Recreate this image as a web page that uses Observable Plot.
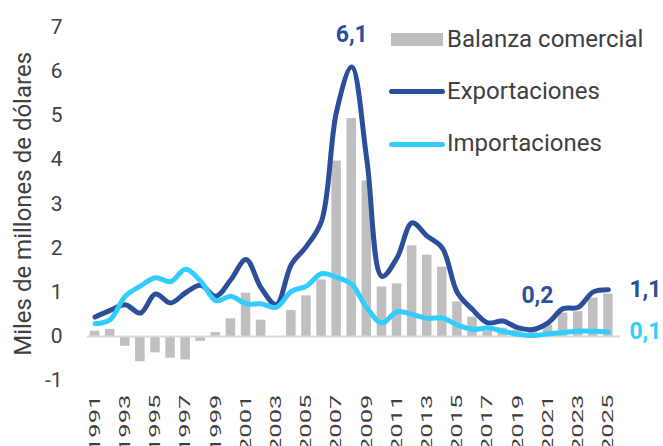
<!DOCTYPE html>
<html><head><meta charset="utf-8">
<script src="https://cdn.jsdelivr.net/npm/d3@7"></script>
<script src="https://cdn.jsdelivr.net/npm/@observablehq/plot@0.6"></script>
<style>
body{margin:0;background:#fff;font-family:Roboto,sans-serif;}
#wrap{position:relative;width:663px;height:446px;overflow:hidden;background:#fff;}
#wrap svg{position:absolute;left:0;top:0;}
.lg{position:absolute;font-size:24px;line-height:24px;color:#404040;white-space:nowrap;font-family:Roboto,sans-serif;}
.sw{position:absolute;}
</style></head><body><div id="wrap"></div>
<script>
const years = [1991,1992,1993,1994,1995,1996,1997,1998,1999,2000,2001,2002,2003,2004,2005,2006,2007,2008,2009,2010,2011,2012,2013,2014,2015,2016,2017,2018,2019,2020,2021,2022,2023,2024,2025];
const balance = [0.12,0.16,-0.22,-0.57,-0.37,-0.49,-0.53,-0.11,0.09,0.40,0.98,0.37,0.0,0.59,0.92,1.28,3.97,4.93,3.52,1.12,1.19,2.05,1.84,1.57,0.78,0.44,0.12,0.19,0.14,0.13,0.26,0.53,0.56,0.87,0.96];
const exportsV = [0.44,0.59,0.72,0.53,0.96,0.76,0.99,1.16,0.91,1.29,1.74,1.10,0.72,1.63,2.04,2.61,5.10,6.10,4.00,1.36,1.78,2.57,2.27,2.00,0.99,0.61,0.31,0.35,0.20,0.16,0.31,0.63,0.66,1.01,1.06];
const importsV = [0.29,0.38,0.91,1.14,1.33,1.24,1.52,1.25,0.81,0.91,0.74,0.74,0.66,1.02,1.14,1.42,1.34,1.18,0.65,0.31,0.56,0.50,0.41,0.42,0.26,0.16,0.19,0.12,0.05,0.02,0.06,0.09,0.12,0.12,0.10];
const xTickYears = [1991,1993,1995,1997,1999,2001,2003,2005,2007,2009,2011,2013,2015,2017,2019,2021,2023,2025];
const yTicks = [-1,0,1,2,3,4,5,6,7];
const seriesNames = ["Balanza comercial","Exportaciones","Importaciones"];
const yTitle = "Miles de millones de dólares";
const colors = {balance:"#bfbfbf", exports:"#2b4f9b", imports:"#33ccff"};

const data = years.map((year,i)=>({year, balance:balance[i], exports:exportsV[i], imports:importsV[i]}));
const fmt = v => v.toFixed(1).replace(".", ",");
const pick = y => data.filter(d => d.year === y);

const chart = Plot.plot({
  width:663, height:446,
  marginTop:26.6, marginBottom:65.8, marginLeft:87, marginRight:43,
  style:{fontFamily:"Roboto, sans-serif", color:"#404040", background:"transparent"},
  x:{domain:[1990.5,2025.8]},
  y:{domain:[-1,7]},
  marks:[
    Plot.axisX({ticks:xTickYears, tickFormat:d=>String(d), tickRotate:-90, tickSize:0, tickPadding:14, fontSize:15, label:null, fill:"#404040"}),
    Plot.axisY({ticks:yTicks, tickFormat:d=>String(d), tickSize:0, tickPadding:25, fontSize:21, label:null, fill:"#404040"}),
    Plot.text([yTitle], {frameAnchor:"left", text:d=>d, rotate:-90, dx:-64, textAnchor:"middle", fontSize:24, fill:"#404040"}),
    Plot.rectY(data, {x1:d=>d.year-0.5, x2:d=>d.year+0.5, y:"balance", fill:colors.balance, insetLeft:2.8, insetRight:2.8}),
    Plot.ruleY([0], {stroke:"#d9d9d9", strokeWidth:2}),
    Plot.lineY(data, {x:"year", y:"exports", stroke:colors.exports, strokeWidth:5, curve:"catmull-rom", strokeLinecap:"round"}),
    Plot.lineY(data, {x:"year", y:"imports", stroke:colors.imports, strokeWidth:5, curve:"catmull-rom", strokeLinecap:"round"}),
    Plot.text(pick(2008), {x:"year", y:"exports", text:d=>fmt(d.exports), dy:-32, fontSize:23, fontWeight:"bold", fill:colors.exports}),
    Plot.text(pick(2020), {x:"year", y:"exports", text:d=>fmt(d.exports), dx:4.5, dy:-33.5, fontSize:23, fontWeight:"bold", fill:colors.exports}),
    Plot.text(pick(2025), {x:"year", y:"exports", text:d=>fmt(d.exports), dx:21, textAnchor:"start", fontSize:23, fontWeight:"bold", fill:colors.exports}),
    Plot.text(pick(2025), {x:"year", y:"imports", text:d=>fmt(d.imports), dx:21, textAnchor:"start", fontSize:23, fontWeight:"bold", fill:colors.imports})
  ]
});
// stretch rotated x tick labels along text direction (as in reference)
chart.querySelectorAll('g[aria-label="x-axis tick label"] text').forEach(t=>{
  const tr = t.getAttribute("transform") || "";
  t.setAttribute("transform", tr + " scale(1.7,1)");
});
const wrap = document.getElementById("wrap");
wrap.appendChild(chart);

// legend overlay
const lg = [
  {name:seriesNames[0], type:"rect", color:colors.balance, top:26.5, sw:{left:391,top:33.3,width:52,height:12.5}},
  {name:seriesNames[1], type:"line", color:colors.exports, top:78.8, sw:{left:388.5,top:89.3,width:56,height:5}},
  {name:seriesNames[2], type:"line", color:colors.imports, top:130.8, sw:{left:388.5,top:141.7,width:56,height:5}}
];
lg.forEach(it=>{
  const s = document.createElement("div");
  s.className="sw";
  Object.assign(s.style,{left:it.sw.left+"px",top:it.sw.top+"px",width:it.sw.width+"px",height:it.sw.height+"px",background:it.color,borderRadius:it.type==="line"?"3px":"0"});
  wrap.appendChild(s);
  const t = document.createElement("div");
  t.className="lg";
  t.style.left="447px"; t.style.top=it.top+"px";
  t.textContent=it.name;
  wrap.appendChild(t);
});
</script></body></html>
